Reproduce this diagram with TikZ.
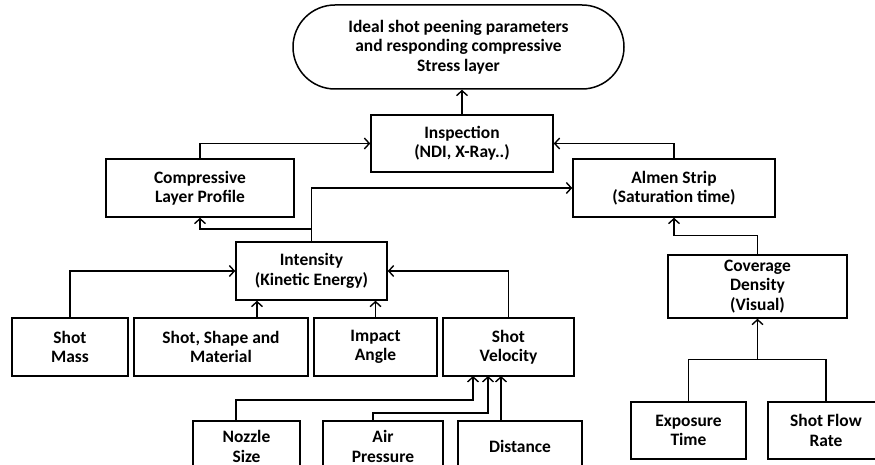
\documentclass[tikz,border=0pt]{standalone}
\usepackage{fontspec}
\setmainfont{Carlito}
\usepackage{tikz}
\usetikzlibrary{arrows.meta, positioning}

\begin{document}
\begin{tikzpicture}[
    x=1bp, y=-1bp,
    box/.style={draw, line width=1.5bp, align=center, inner sep=1bp, font=\fontsize{17.5}{19.5}\selectfont\bfseries},
    goalbox/.style={box, rounded corners=42bp, minimum width=331bp, minimum height=84bp},
    arrow/.style={-{Straight Barb[length=5bp, width=11bp, line width=1.4bp]}, line width=1.3bp},
    link/.style={line width=1.3bp}
]
\useasboundingbox (0,0) rectangle (875,465);
\clip (0,0) rectangle (875,465);

% Goal
\node[goalbox] (goal) at (458.5,47) {Ideal shot peening parameters\\and responding compressive\\Stress layer};

% Inspection level
\node[box, minimum width=182bp, minimum height=57bp] (insp) at (462,143.5) {Inspection\\(NDI, X-Ray..)};
\node[box, minimum width=188bp, minimum height=58bp] (clp) at (200,188) {Compressive\\Layer Profile};
\node[box, minimum width=202bp, minimum height=58bp] (almen) at (674,188) {Almen Strip\\(Saturation time)};

% Intensity and its inputs
\node[box, minimum width=151bp, minimum height=58bp] (intens) at (311.5,271) {Intensity\\(Kinetic Energy)};
\node[box, minimum width=116bp, minimum height=58bp] (mass) at (70,347) {Shot\\Mass};
\node[box, minimum width=174bp, minimum height=58bp] (ssm) at (221,347) {Shot, Shape and\\Material};
\node[box, minimum width=123bp, minimum height=58bp] (angle) at (375.5,347) {Impact\\Angle};
\node[box, minimum width=131bp, minimum height=58bp] (vel) at (508.5,347) {Shot\\Velocity};

% Velocity inputs
\node[box, minimum width=107bp, minimum height=51bp] (nozzle) at (246.5,446.5) {Nozzle\\Size};
\node[box, minimum width=120bp, minimum height=51bp] (air) at (383,446.5) {Air\\Pressure};
\node[box, minimum width=124bp, minimum height=51bp] (dist) at (520,446.5) {Distance};

% Coverage branch
\node[box, minimum width=179bp, minimum height=63bp] (cov) at (757.5,286.5) {Coverage\\Density\\(Visual)};
\node[box, minimum width=115bp, minimum height=57bp] (expo) at (688.5,430.5) {Exposure\\Time};
\node[box, minimum width=116bp, minimum height=57bp] (flow) at (826,430.5) {Shot Flow\\Rate};

% Taps and joins
\coordinate (ssmtop) at (257,318);
\coordinate (splitclp) at (311.5,229);
\coordinate (nztop) at (236,421);
\coordinate (airtop) at (373,421);
\coordinate (disttop) at (501,421);
\coordinate (vin1) at (473,376);
\coordinate (vin2) at (488,376);
\coordinate (vin3) at (501,376);
\coordinate (covjoin) at (757.5,360);

% Upper connectors
\draw[arrow] (insp.north) -- (insp.north |- goal.south);
\draw[arrow] (clp.north) |- (insp.west);
\draw[arrow] (almen.north) |- (insp.east);
\draw[arrow] (intens.north) |- (almen.west);
\draw[arrow] (splitclp) -| (clp.south);

% Into intensity
\draw[arrow] (mass.north) |- (intens.west);
\draw[arrow] (ssmtop) -- (ssmtop |- intens.south);
\draw[arrow] (angle.north) -- (angle.north |- intens.south);
\draw[arrow] (vel.north) |- (intens.east);

% Into velocity
\draw[arrow] (nztop) -- ++(0,-21) -| (vin1);
\draw[arrow] (airtop) -- ++(0,-8) -| (vin2);
\draw[arrow] (disttop) -- (vin3);

% Coverage
\draw[arrow] (cov.north) -- ++(0,-19) -| (almen.south);
\draw[link] (expo.north) -- ++(0,-42) -| (flow.north);
\draw[arrow] (covjoin) -- (cov.south);

\end{tikzpicture}
\end{document}
